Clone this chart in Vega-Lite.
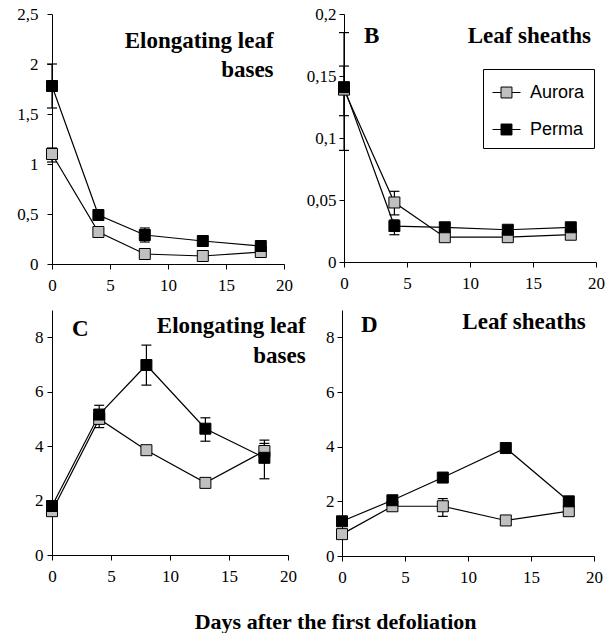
{
  "$schema": "https://vega.github.io/schema/vega-lite/v6.json",
  "background": "white",
  "padding": {"left": 16, "top": 5, "right": 5, "bottom": 0},
  "config": {
    "view": {"stroke": null},
    "style": {"guide-label": {"font": "Liberation Serif", "fontSize": 17, "fill": "black"}},
    "axis": {"domainColor": "black", "tickColor": "black", "tickSize": 5, "labelFont": "Liberation Serif", "labelFontSize": 17, "labelColor": "black", "grid": false, "labelFlush": false, "labelOverlap": false, "domainWidth": 1, "tickWidth": 1, "title": null}
  },
  "datasets": {
    "pts": [
      {"panel": "A", "variety": "Aurora", "day": 0, "value": 1.10},
      {"panel": "A", "variety": "Aurora", "day": 4, "value": 0.32},
      {"panel": "A", "variety": "Aurora", "day": 8, "value": 0.10},
      {"panel": "A", "variety": "Aurora", "day": 13, "value": 0.08},
      {"panel": "A", "variety": "Aurora", "day": 18, "value": 0.12},
      {"panel": "A", "variety": "Perma", "day": 0, "value": 1.78},
      {"panel": "A", "variety": "Perma", "day": 4, "value": 0.49},
      {"panel": "A", "variety": "Perma", "day": 8, "value": 0.29},
      {"panel": "A", "variety": "Perma", "day": 13, "value": 0.23},
      {"panel": "A", "variety": "Perma", "day": 18, "value": 0.18},
      {"panel": "B", "variety": "Aurora", "day": 0, "value": 0.139},
      {"panel": "B", "variety": "Aurora", "day": 4, "value": 0.048},
      {"panel": "B", "variety": "Aurora", "day": 8, "value": 0.020},
      {"panel": "B", "variety": "Aurora", "day": 13, "value": 0.020},
      {"panel": "B", "variety": "Aurora", "day": 18, "value": 0.022},
      {"panel": "B", "variety": "Perma", "day": 0, "value": 0.141},
      {"panel": "B", "variety": "Perma", "day": 4, "value": 0.029},
      {"panel": "B", "variety": "Perma", "day": 8, "value": 0.028},
      {"panel": "B", "variety": "Perma", "day": 13, "value": 0.026},
      {"panel": "B", "variety": "Perma", "day": 18, "value": 0.028},
      {"panel": "C", "variety": "Aurora", "day": 0, "value": 1.61},
      {"panel": "C", "variety": "Aurora", "day": 4, "value": 5.0},
      {"panel": "C", "variety": "Aurora", "day": 8, "value": 3.85},
      {"panel": "C", "variety": "Aurora", "day": 13, "value": 2.65},
      {"panel": "C", "variety": "Aurora", "day": 18, "value": 3.82},
      {"panel": "C", "variety": "Perma", "day": 0, "value": 1.80},
      {"panel": "C", "variety": "Perma", "day": 4, "value": 5.16},
      {"panel": "C", "variety": "Perma", "day": 8, "value": 6.98},
      {"panel": "C", "variety": "Perma", "day": 13, "value": 4.64},
      {"panel": "C", "variety": "Perma", "day": 18, "value": 3.57},
      {"panel": "D", "variety": "Aurora", "day": 0, "value": 0.80},
      {"panel": "D", "variety": "Aurora", "day": 4, "value": 1.82},
      {"panel": "D", "variety": "Aurora", "day": 8, "value": 1.82},
      {"panel": "D", "variety": "Aurora", "day": 13, "value": 1.30},
      {"panel": "D", "variety": "Aurora", "day": 18, "value": 1.64},
      {"panel": "D", "variety": "Perma", "day": 0, "value": 1.27},
      {"panel": "D", "variety": "Perma", "day": 4, "value": 2.04},
      {"panel": "D", "variety": "Perma", "day": 8, "value": 2.87},
      {"panel": "D", "variety": "Perma", "day": 13, "value": 3.95},
      {"panel": "D", "variety": "Perma", "day": 18, "value": 2.0}
    ],
    "err": [
      {"panel": "A", "variety": "Aurora", "day": 0, "lo": 1.02, "hi": 1.16},
      {"panel": "A", "variety": "Perma", "day": 0, "lo": 1.56, "hi": 2.0},
      {"panel": "A", "variety": "Perma", "day": 8, "lo": 0.22, "hi": 0.36},
      {"panel": "B", "variety": "Aurora", "day": 0, "lo": 0.09, "hi": 0.185},
      {"panel": "B", "variety": "Perma", "day": 0, "lo": 0.118, "hi": 0.158},
      {"panel": "B", "variety": "Aurora", "day": 4, "lo": 0.038, "hi": 0.057},
      {"panel": "B", "variety": "Perma", "day": 4, "lo": 0.022, "hi": 0.034},
      {"panel": "C", "variety": "Aurora", "day": 4, "lo": 4.68, "hi": 5.3},
      {"panel": "C", "variety": "Perma", "day": 4, "lo": 4.82, "hi": 5.5},
      {"panel": "C", "variety": "Perma", "day": 8, "lo": 6.24, "hi": 7.71},
      {"panel": "C", "variety": "Perma", "day": 13, "lo": 4.18, "hi": 5.04},
      {"panel": "C", "variety": "Aurora", "day": 18, "lo": 3.55, "hi": 4.1},
      {"panel": "C", "variety": "Perma", "day": 18, "lo": 2.80, "hi": 4.22},
      {"panel": "D", "variety": "Aurora", "day": 8, "lo": 1.45, "hi": 2.10}
    ]
  },
  "title": {"text": "Days after the first defoliation", "orient": "bottom", "font": "Liberation Serif", "fontSize": 22, "fontWeight": "bold", "color": "black", "anchor": "middle", "offset": 27, "dx": 25},
  "spacing": 17,
  "resolve": {"scale": {"x": "independent", "y": "independent"}, "legend": {"fill": "independent"}},
  "vconcat": [
    {
      "hconcat": [
        {
          "width": 232, "height": 250,
          "layer": [
            {"data": {"name": "pts"}, "transform": [{"filter": "datum.panel == 'A'"}],
             "mark": {"type": "line", "color": "black", "strokeWidth": 1.2},
             "encoding": {
               "x": {"field": "day", "type": "quantitative", "scale": {"domain": [0, 20], "nice": false}, "axis": {"values": [0, 5, 10, 15, 20], "labelPadding": 8, "labelFont": "Liberation Serif", "labelFontSize": 17}},
               "y": {"field": "value", "type": "quantitative", "scale": {"domain": [0, 2.5], "nice": false}, "axis": {"values": [0, 0.5, 1, 1.5, 2, 2.5], "labelPadding": 9, "labelFont": "Liberation Serif", "labelFontSize": 17, "labelExpr": "replace(format(datum.value, '~g'), '.', ',')"}},
               "detail": {"field": "variety"}}},
            {"data": {"name": "err"}, "transform": [{"filter": "datum.panel == 'A'"}],
             "mark": {"type": "rule", "color": "black", "strokeWidth": 1.2},
             "encoding": {"x": {"field": "day", "type": "quantitative"}, "y": {"field": "lo", "type": "quantitative"}, "y2": {"field": "hi"}}},
            {"data": {"name": "err"}, "transform": [{"filter": "datum.panel == 'A'"}],
             "mark": {"type": "point", "shape": "M-1,0L1,0", "size": 100, "filled": false, "stroke": "black", "strokeWidth": 1.2, "opacity": 1},
             "encoding": {"x": {"field": "day", "type": "quantitative"}, "y": {"field": "lo", "type": "quantitative"}}},
            {"data": {"name": "err"}, "transform": [{"filter": "datum.panel == 'A'"}],
             "mark": {"type": "point", "shape": "M-1,0L1,0", "size": 100, "filled": false, "stroke": "black", "strokeWidth": 1.2, "opacity": 1},
             "encoding": {"x": {"field": "day", "type": "quantitative"}, "y": {"field": "hi", "type": "quantitative"}}},
            {"data": {"name": "pts"}, "transform": [{"filter": "datum.panel == 'A'"}],
             "mark": {"type": "point", "shape": "square", "filled": true, "size": 121, "stroke": "black", "strokeWidth": 1, "opacity": 1},
             "encoding": {"x": {"field": "day", "type": "quantitative"}, "y": {"field": "value", "type": "quantitative"},
               "fill": {"field": "variety", "type": "nominal", "scale": {"domain": ["Aurora", "Perma"], "range": ["#c0c0c0", "#000000"]}, "legend": null}}},
            {"data": {"values": [{}]},
             "mark": {"type": "text", "text": ["Elongating leaf", "bases"], "align": "right", "baseline": "alphabetic", "font": "Liberation Serif", "fontSize": 23, "fontWeight": "bold", "lineHeight": 29, "color": "black"},
             "encoding": {"x": {"datum": 19.1, "type": "quantitative"}, "y": {"datum": 2.16, "type": "quantitative"}}}
          ]
        },
        {
          "width": 252, "height": 248,
          "layer": [
            {"data": {"name": "pts"}, "transform": [{"filter": "datum.panel == 'B'"}],
             "mark": {"type": "line", "color": "black", "strokeWidth": 1.2},
             "encoding": {
               "x": {"field": "day", "type": "quantitative", "scale": {"domain": [0, 20], "nice": false}, "axis": {"values": [0, 5, 10, 15, 20], "labelPadding": 8, "labelFont": "Liberation Serif", "labelFontSize": 17}},
               "y": {"field": "value", "type": "quantitative", "scale": {"domain": [0, 0.2], "nice": false}, "axis": {"values": [0, 0.05, 0.1, 0.15, 0.2], "labelPadding": 3, "labelFont": "Liberation Serif", "labelFontSize": 17, "labelExpr": "replace(format(datum.value, '~g'), '.', ',')"}},
               "detail": {"field": "variety"}}},
            {"data": {"name": "err"}, "transform": [{"filter": "datum.panel == 'B'"}],
             "mark": {"type": "rule", "color": "black", "strokeWidth": 1.2},
             "encoding": {"x": {"field": "day", "type": "quantitative"}, "y": {"field": "lo", "type": "quantitative"}, "y2": {"field": "hi"}}},
            {"data": {"name": "err"}, "transform": [{"filter": "datum.panel == 'B'"}],
             "mark": {"type": "point", "shape": "M-1,0L1,0", "size": 100, "filled": false, "stroke": "black", "strokeWidth": 1.2, "opacity": 1},
             "encoding": {"x": {"field": "day", "type": "quantitative"}, "y": {"field": "lo", "type": "quantitative"}}},
            {"data": {"name": "err"}, "transform": [{"filter": "datum.panel == 'B'"}],
             "mark": {"type": "point", "shape": "M-1,0L1,0", "size": 100, "filled": false, "stroke": "black", "strokeWidth": 1.2, "opacity": 1},
             "encoding": {"x": {"field": "day", "type": "quantitative"}, "y": {"field": "hi", "type": "quantitative"}}},
            {"data": {"name": "pts"}, "transform": [{"filter": "datum.panel == 'B'"}],
             "mark": {"type": "point", "shape": "square", "filled": true, "size": 121, "stroke": "black", "strokeWidth": 1, "opacity": 1},
             "encoding": {"x": {"field": "day", "type": "quantitative"}, "y": {"field": "value", "type": "quantitative"},
               "fill": {"field": "variety", "type": "nominal", "scale": {"domain": ["Aurora", "Perma"], "range": ["#c0c0c0", "#000000"]},
                 "legend": {"title": null, "orient": "none", "legendX": 139, "legendY": 55, "strokeColor": "black", "fillColor": "white", "padding": 9, "symbolType": "M-1,0L-0.39,0M0.39,0L1,0M-0.39,-0.39L0.39,-0.39L0.39,0.39L-0.39,0.39Z", "symbolSize": 784, "symbolStrokeColor": "black", "symbolStrokeWidth": 1, "symbolOpacity": 1, "labelFont": "Liberation Sans", "labelFontSize": 18, "labelColor": "black", "rowPadding": 13, "labelOffset": 9}}}},
            {"data": {"values": [{}]},
             "mark": {"type": "text", "text": "B", "align": "left", "baseline": "alphabetic", "font": "Liberation Serif", "fontSize": 23, "fontWeight": "bold", "color": "black"},
             "encoding": {"x": {"datum": 1.59, "type": "quantitative"}, "y": {"datum": 0.1766, "type": "quantitative"}}},
            {"data": {"values": [{}]},
             "mark": {"type": "text", "text": "Leaf sheaths", "align": "right", "baseline": "alphabetic", "font": "Liberation Serif", "fontSize": 23, "fontWeight": "bold", "color": "black"},
             "encoding": {"x": {"datum": 19.6, "type": "quantitative"}, "y": {"datum": 0.1766, "type": "quantitative"}}}
          ]
        }
      ],
      "spacing": 60,
      "bounds": "flush",
      "resolve": {"scale": {"x": "independent", "y": "independent"}, "legend": {"fill": "independent"}}
    },
    {
      "hconcat": [
        {
          "width": 236, "height": 245,
          "layer": [
            {"data": {"name": "pts"}, "transform": [{"filter": "datum.panel == 'C'"}],
             "mark": {"type": "line", "color": "black", "strokeWidth": 1.2},
             "encoding": {
               "x": {"field": "day", "type": "quantitative", "scale": {"domain": [0, 20], "nice": false}, "axis": {"values": [0, 5, 10, 15, 20], "labelPadding": 8, "labelFont": "Liberation Serif", "labelFontSize": 17}},
               "y": {"field": "value", "type": "quantitative", "scale": {"domain": [0, 9], "nice": false}, "axis": {"values": [0, 1, 2, 3, 4, 5, 6, 7, 8, 9], "labelPadding": 4, "labelFont": "Liberation Serif", "labelFontSize": 17, "labelExpr": "datum.value % 2 == 0 ? datum.label : ''"}},
               "detail": {"field": "variety"}}},
            {"data": {"name": "err"}, "transform": [{"filter": "datum.panel == 'C'"}],
             "mark": {"type": "rule", "color": "black", "strokeWidth": 1.2},
             "encoding": {"x": {"field": "day", "type": "quantitative"}, "y": {"field": "lo", "type": "quantitative"}, "y2": {"field": "hi"}}},
            {"data": {"name": "err"}, "transform": [{"filter": "datum.panel == 'C'"}],
             "mark": {"type": "point", "shape": "M-1,0L1,0", "size": 100, "filled": false, "stroke": "black", "strokeWidth": 1.2, "opacity": 1},
             "encoding": {"x": {"field": "day", "type": "quantitative"}, "y": {"field": "lo", "type": "quantitative"}}},
            {"data": {"name": "err"}, "transform": [{"filter": "datum.panel == 'C'"}],
             "mark": {"type": "point", "shape": "M-1,0L1,0", "size": 100, "filled": false, "stroke": "black", "strokeWidth": 1.2, "opacity": 1},
             "encoding": {"x": {"field": "day", "type": "quantitative"}, "y": {"field": "hi", "type": "quantitative"}}},
            {"data": {"name": "pts"}, "transform": [{"filter": "datum.panel == 'C'"}],
             "mark": {"type": "point", "shape": "square", "filled": true, "size": 121, "stroke": "black", "strokeWidth": 1, "opacity": 1},
             "encoding": {"x": {"field": "day", "type": "quantitative"}, "y": {"field": "value", "type": "quantitative"},
               "fill": {"field": "variety", "type": "nominal", "scale": {"domain": ["Aurora", "Perma"], "range": ["#c0c0c0", "#000000"]}, "legend": null}}},
            {"data": {"values": [{}]},
             "mark": {"type": "text", "text": "C", "align": "left", "baseline": "alphabetic", "font": "Liberation Serif", "fontSize": 23, "fontWeight": "bold", "color": "black"},
             "encoding": {"x": {"datum": 1.69, "type": "quantitative"}, "y": {"datum": 8.06, "type": "quantitative"}}},
            {"data": {"values": [{}]},
             "mark": {"type": "text", "text": ["Elongating leaf", "bases"], "align": "right", "baseline": "alphabetic", "font": "Liberation Serif", "fontSize": 23, "fontWeight": "bold", "lineHeight": 30, "color": "black"},
             "encoding": {"x": {"datum": 21.5, "type": "quantitative"}, "y": {"datum": 8.14, "type": "quantitative"}}}
          ]
        },
        {
          "width": 252, "height": 246,
          "layer": [
            {"data": {"name": "pts"}, "transform": [{"filter": "datum.panel == 'D'"}],
             "mark": {"type": "line", "color": "black", "strokeWidth": 1.2},
             "encoding": {
               "x": {"field": "day", "type": "quantitative", "scale": {"domain": [0, 20], "nice": false}, "axis": {"values": [0, 5, 10, 15, 20], "labelPadding": 8, "labelFont": "Liberation Serif", "labelFontSize": 17}},
               "y": {"field": "value", "type": "quantitative", "scale": {"domain": [0, 9], "nice": false}, "axis": {"values": [0, 1, 2, 3, 4, 5, 6, 7, 8, 9], "labelPadding": 3, "labelFont": "Liberation Serif", "labelFontSize": 17, "labelExpr": "datum.value % 2 == 0 ? datum.label : ''"}},
               "detail": {"field": "variety"}}},
            {"data": {"name": "err"}, "transform": [{"filter": "datum.panel == 'D'"}],
             "mark": {"type": "rule", "color": "black", "strokeWidth": 1.2},
             "encoding": {"x": {"field": "day", "type": "quantitative"}, "y": {"field": "lo", "type": "quantitative"}, "y2": {"field": "hi"}}},
            {"data": {"name": "err"}, "transform": [{"filter": "datum.panel == 'D'"}],
             "mark": {"type": "point", "shape": "M-1,0L1,0", "size": 100, "filled": false, "stroke": "black", "strokeWidth": 1.2, "opacity": 1},
             "encoding": {"x": {"field": "day", "type": "quantitative"}, "y": {"field": "lo", "type": "quantitative"}}},
            {"data": {"name": "err"}, "transform": [{"filter": "datum.panel == 'D'"}],
             "mark": {"type": "point", "shape": "M-1,0L1,0", "size": 100, "filled": false, "stroke": "black", "strokeWidth": 1.2, "opacity": 1},
             "encoding": {"x": {"field": "day", "type": "quantitative"}, "y": {"field": "hi", "type": "quantitative"}}},
            {"data": {"name": "pts"}, "transform": [{"filter": "datum.panel == 'D'"}],
             "mark": {"type": "point", "shape": "square", "filled": true, "size": 121, "stroke": "black", "strokeWidth": 1, "opacity": 1},
             "encoding": {"x": {"field": "day", "type": "quantitative"}, "y": {"field": "value", "type": "quantitative"},
               "fill": {"field": "variety", "type": "nominal", "scale": {"domain": ["Aurora", "Perma"], "range": ["#c0c0c0", "#000000"]}, "legend": null}}},
            {"data": {"values": [{}]},
             "mark": {"type": "text", "text": "D", "align": "left", "baseline": "alphabetic", "font": "Liberation Serif", "fontSize": 23, "fontWeight": "bold", "color": "black"},
             "encoding": {"x": {"datum": 1.5, "type": "quantitative"}, "y": {"datum": 8.2, "type": "quantitative"}}},
            {"data": {"values": [{}]},
             "mark": {"type": "text", "text": "Leaf sheaths", "align": "right", "baseline": "alphabetic", "font": "Liberation Serif", "fontSize": 23, "fontWeight": "bold", "color": "black"},
             "encoding": {"x": {"datum": 19.34, "type": "quantitative"}, "y": {"datum": 8.3, "type": "quantitative"}}}
          ]
        }
      ],
      "spacing": 54,
      "bounds": "flush",
      "resolve": {"scale": {"x": "independent", "y": "independent"}, "legend": {"fill": "independent"}}
    }
  ]
}
